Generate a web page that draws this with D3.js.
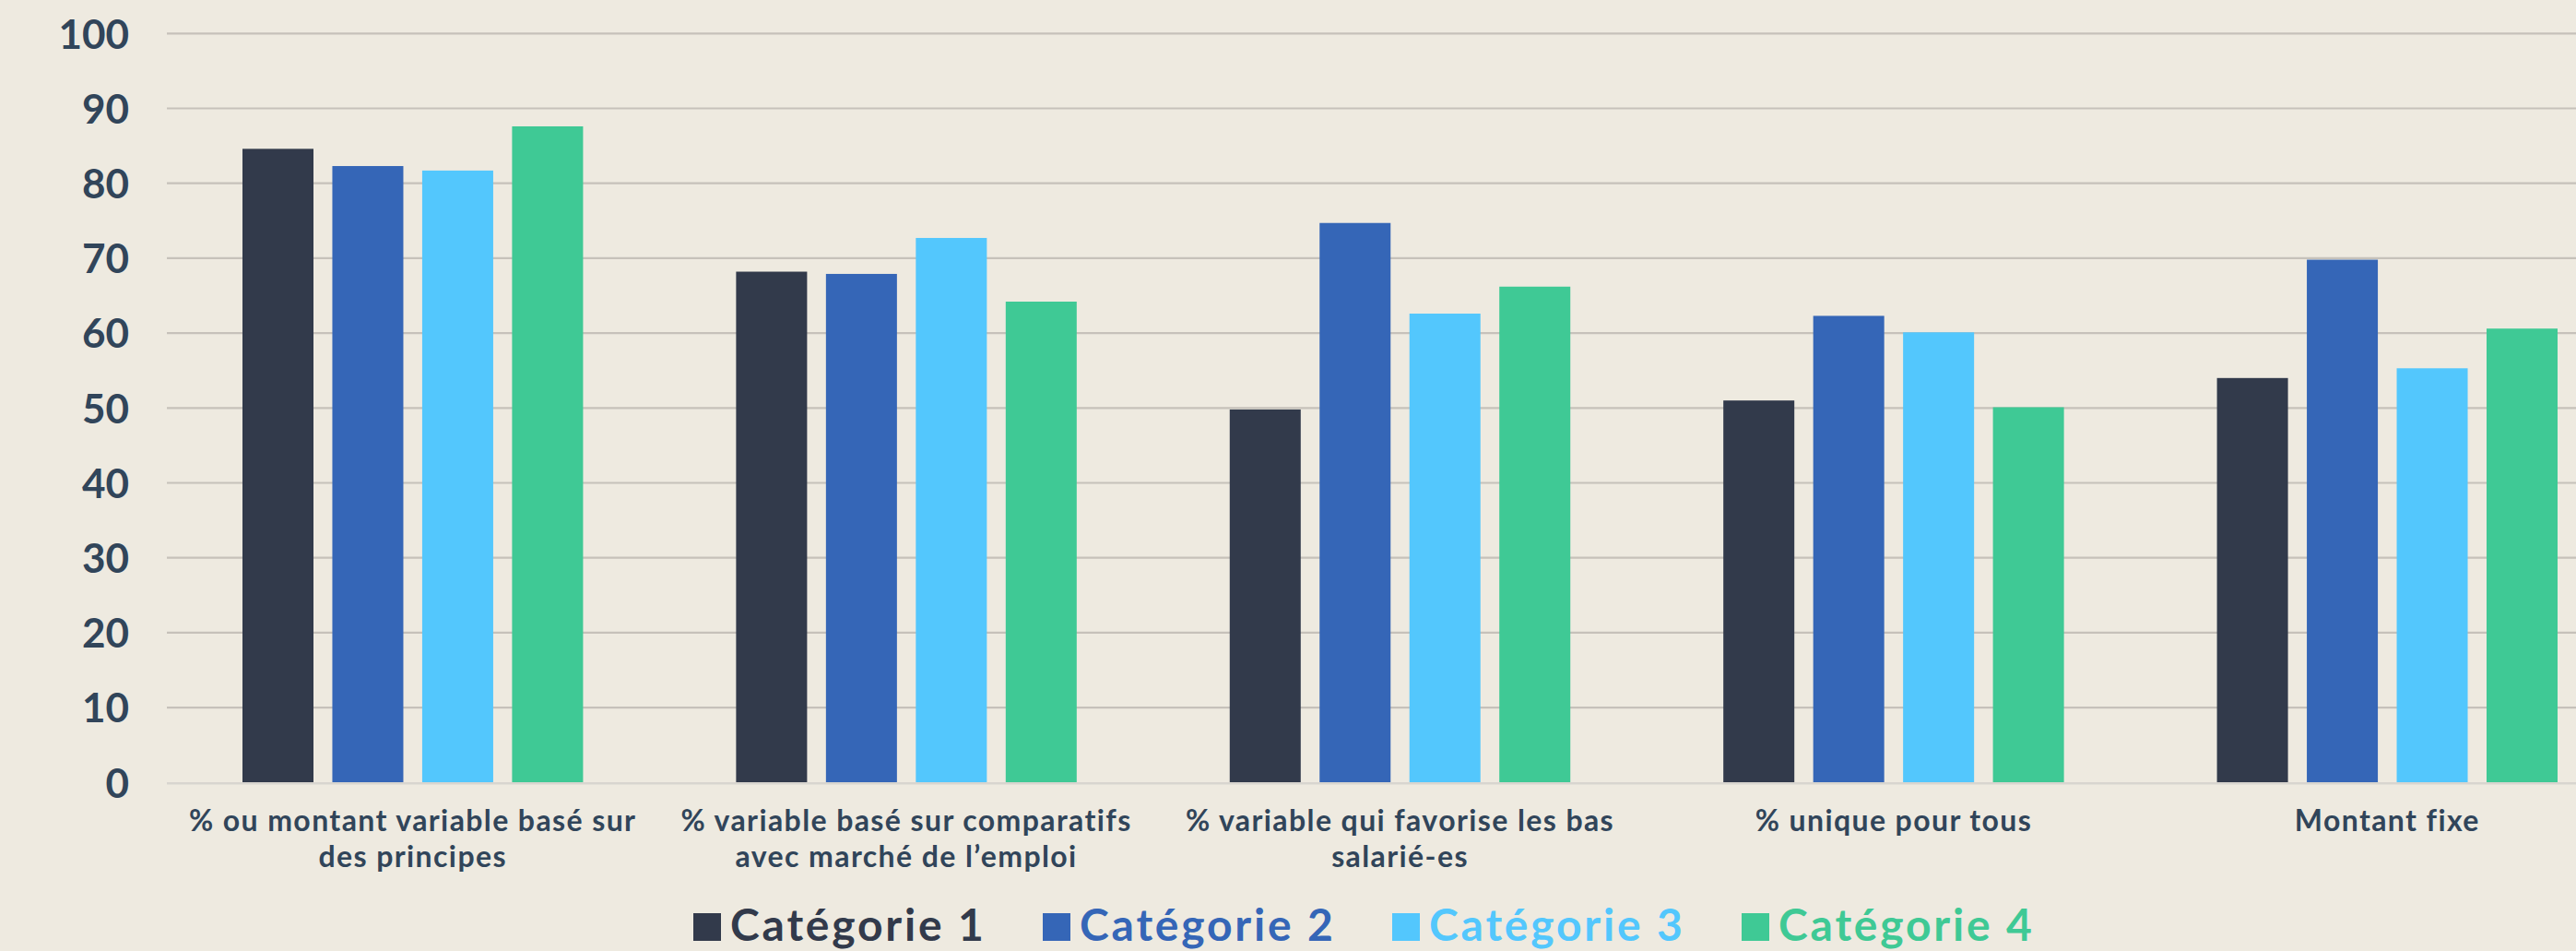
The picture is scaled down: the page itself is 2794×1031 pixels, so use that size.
<!DOCTYPE html>
<html>
<head>
<meta charset="utf-8">
<script src="https://cdn.jsdelivr.net/npm/d3@7"></script>
<style>
  html, body { margin: 0; padding: 0; background: #EEEAE0; }
  svg { display: block; }
  text { font-family: "Lato", "Open Sans", sans-serif; font-weight: 700; }
</style>
</head>
<body>
<svg id="chart" width="2794" height="1031"></svg>
<script>
// ---- Data ----
const categories = [
  "% ou montant variable basé sur|des principes",
  "% variable basé sur comparatifs|avec marché de l’emploi",
  "% variable qui favorise les bas|salarié-es",
  "% unique pour tous",
  "Montant fixe"
];
const seriesNames = ["Catégorie 1", "Catégorie 2", "Catégorie 3", "Catégorie 4"];
const cat1 = [84.6, 68.2, 49.8, 51.0, 54.0];
const cat2 = [82.3, 67.9, 74.7, 62.3, 69.8];
const cat3 = [81.7, 72.7, 62.6, 60.1, 55.3];
const cat4 = [87.6, 64.2, 66.2, 50.1, 60.6];
const yTicks = [0, 10, 20, 30, 40, 50, 60, 70, 80, 90, 100];
const colors = ["#323A4B", "#3566B7", "#53C7FD", "#3FC995"];

const seriesValues = [cat1, cat2, cat3, cat4];

// ---- Layout ----
const svg = d3.select("#chart");
const W = 2794, H = 1031;
svg.append("rect").attr("width", W).attr("height", H).attr("fill", "#EEEAE0");

const x0 = d3.scaleBand().domain(categories).range([180, 2857])
  .paddingInner(0.31).paddingOuter(0.155);
const x1 = d3.scaleBand().domain(seriesNames).range([0, x0.bandwidth()])
  .paddingInner(0.21).paddingOuter(0);
const y = d3.scaleLinear().domain([0, 100]).range([848.3, 36.3]);

const textColor = "#31455A";

// gridlines
const grid = svg.append("g");
grid.selectAll("line").data(yTicks.filter(d => d !== 0)).join("line")
  .attr("x1", 181).attr("x2", W)
  .attr("y1", d => y(d)).attr("y2", d => y(d))
  .attr("stroke", "#C6C1BA").attr("stroke-width", 2.2);

// y axis labels
const yAxis = d3.axisLeft(y).tickValues(yTicks).tickSize(0).tickPadding(0);
const yg = svg.append("g").attr("transform", "translate(140,0)").call(yAxis);
yg.select(".domain").remove();
yg.selectAll("text")
  .attr("fill", textColor)
  .attr("font-size", 44)
  .attr("font-family", "Lato, 'Open Sans', sans-serif")
  .attr("font-weight", 700)
  .attr("dy", "0.36em");

// bars
const groups = svg.append("g").selectAll("g").data(categories).join("g")
  .attr("transform", d => `translate(${x0(d)},0)`);
groups.selectAll("rect")
  .data((c, ci) => seriesNames.map((s, si) => ({ s, si, v: seriesValues[si][ci] })))
  .join("rect")
  .attr("x", d => x1(d.s))
  .attr("width", x1.bandwidth())
  .attr("y", d => y(d.v))
  .attr("height", d => y(0) - y(d.v))
  .attr("fill", d => colors[d.si]);

// baseline
svg.append("line")
  .attr("x1", 181).attr("x2", W)
  .attr("y1", y(0) + 1).attr("y2", y(0) + 1)
  .attr("stroke", "#D8D5CF").attr("stroke-width", 2.5);

// x labels
const xl = svg.append("g").selectAll("text").data(categories).join("text")
  .attr("x", d => x0(d) + x0.bandwidth() / 2)
  .attr("y", 901)
  .attr("text-anchor", "middle")
  .attr("fill", textColor)
  .attr("font-size", 32)
  .attr("letter-spacing", 1.4);
xl.selectAll("tspan").data(d => d.split("|")).join("tspan")
  .attr("x", function () { return d3.select(this.parentNode).attr("x"); })
  .attr("dy", (d, i) => i === 0 ? 0 : 39)
  .text(d => d);

// legend
const legend = svg.append("g");
const lg = legend.selectAll("g").data(seriesNames).join("g")
  .attr("transform", (d, i) => `translate(${752 + i * 379},0)`);
lg.append("rect").attr("x", 0).attr("y", 990).attr("width", 30).attr("height", 30)
  .attr("fill", (d, i) => colors[i]);
lg.append("text").attr("x", 40).attr("y", 1020)
  .attr("font-size", 48)
  .attr("letter-spacing", 2.8)
  .attr("fill", (d, i) => colors[i])
  .text(d => d);
</script>
</body>
</html>
